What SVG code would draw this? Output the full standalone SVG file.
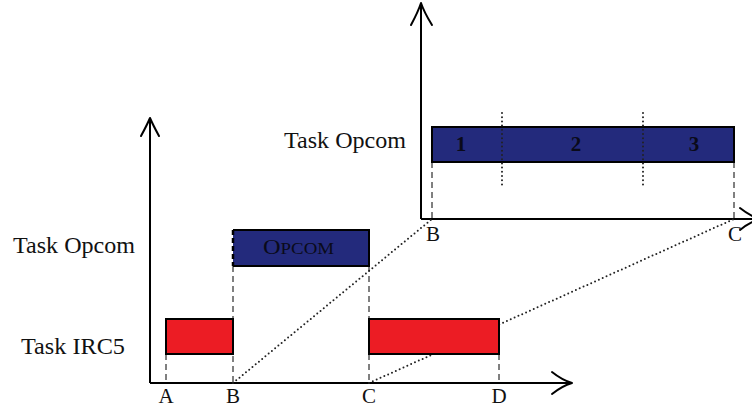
<svg xmlns="http://www.w3.org/2000/svg" width="752" height="407" viewBox="0 0 752 407">
  <style>
    .lbl { font-family: "Liberation Serif", "Times New Roman", serif; font-size: 23px; fill: #111; }
    .tick { font-family: "Liberation Serif", "Times New Roman", serif; font-size: 21px; fill: #111; text-anchor: middle; }
    .num { font-family: "Liberation Serif", "Times New Roman", serif; font-size: 21px; font-weight: bold; fill: #0a0a1a; text-anchor: middle; }
    .axis { stroke: #000; stroke-width: 2; fill: none; }
    .head { stroke: #000; stroke-width: 2; fill: none; stroke-linecap: round; stroke-linejoin: round; }
    .dash { stroke: #000; stroke-width: 1; stroke-dasharray: 6 4; fill: none; }
    .dot { stroke: #222; stroke-width: 2; stroke-dasharray: 0 4.2; stroke-linecap: round; fill: none; }
    .red { fill: #ec1c24; stroke: #000; stroke-width: 2; }
    .blue { fill: #232a7c; stroke: #000; stroke-width: 2; }
  </style>

  <!-- main timeline axes -->
  <g id="axes-main">
    <path class="axis" d="M150,383 V120 M150,383 H570"/>
    <path class="head" d="M141,136 Q147,125 150,118 Q153,125 159,136"/>
    <path class="head" d="M552,372 Q562,380 572,383 Q562,386 552,394"/>
  </g>

  <!-- zoomed timeline axes -->
  <g id="axes-zoom">
    <path class="axis" d="M421,219 V5 M421,219 H758"/>
    <path class="head" d="M411,25 Q418,12 421,3 Q424,12 432,25"/>
    <path class="head" d="M740,208 Q750,216 760,219 Q750,222 740,230"/>
  </g>

  <!-- connectors: guide lines and zoom projection -->
  <g id="connectors">
    <path class="dash" d="M166,354 V383"/>
    <path class="dash" d="M233,266 V383"/>
    <path class="dash" d="M369,266 V319 M369,354 V383"/>
    <path class="dash" d="M499,354 V383"/>
    <path class="dash" d="M432,162 V219"/>
    <path class="dash" d="M734,162 V219"/>
    <path class="dot" d="M233,383 L432,219"/>
    <path class="dot" d="M369,383 L734,219"/>
  </g>

  <!-- row labels -->
  <g id="label-opcom">
    <text class="lbl" x="13" y="253" textLength="122" lengthAdjust="spacingAndGlyphs">Task Opcom</text>
  </g>
  <g id="label-irc5">
    <text class="lbl" x="21" y="354" textLength="104" lengthAdjust="spacingAndGlyphs">Task IRC5</text>
  </g>
  <g id="label-opcom-zoom">
    <text class="lbl" x="284" y="148" textLength="122" lengthAdjust="spacingAndGlyphs">Task Opcom</text>
  </g>

  <!-- IRC5 task blocks -->
  <g id="irc5-1">
    <rect class="red" x="166" y="319" width="67" height="35"/>
  </g>
  <g id="irc5-2">
    <rect class="red" x="369" y="319" width="130" height="35"/>
  </g>

  <!-- Opcom task block -->
  <g id="opcom">
    <rect x="233" y="230" width="136" height="36" fill="#232a7c"/>
    <path d="M233,230 H369 V266 H233" fill="none" stroke="#000" stroke-width="2"/>
    <path d="M233,230 V266" fill="none" stroke="#000" stroke-width="2.5" stroke-dasharray="5 3"/>
    <text x="263" y="254" font-family="Liberation Serif, Times New Roman, serif" font-size="22" fill="#0a0a1a" textLength="71" lengthAdjust="spacingAndGlyphs">O<tspan font-size="17">PCOM</tspan></text>
  </g>

  <!-- Opcom task, zoomed in three phases -->
  <g id="opcom-zoom">
    <rect class="blue" x="432" y="127" width="302" height="35"/>
    <path class="dot" d="M502,113 V185 M643,113 V185" stroke-width="1.8" stroke-dasharray="0 3.4"/>
    <text class="num" x="461" y="151">1</text>
    <text class="num" x="576" y="151">2</text>
    <text class="num" x="694" y="151">3</text>
  </g>

  <!-- time marks -->
  <g id="ticks">
    <text class="tick" x="166" y="403">A</text>
    <text class="tick" x="233" y="403">B</text>
    <text class="tick" x="369" y="403">C</text>
    <text class="tick" x="499" y="403">D</text>
    <text class="tick" x="433" y="241">B</text>
    <text class="tick" x="735" y="241">C</text>
  </g>
</svg>
